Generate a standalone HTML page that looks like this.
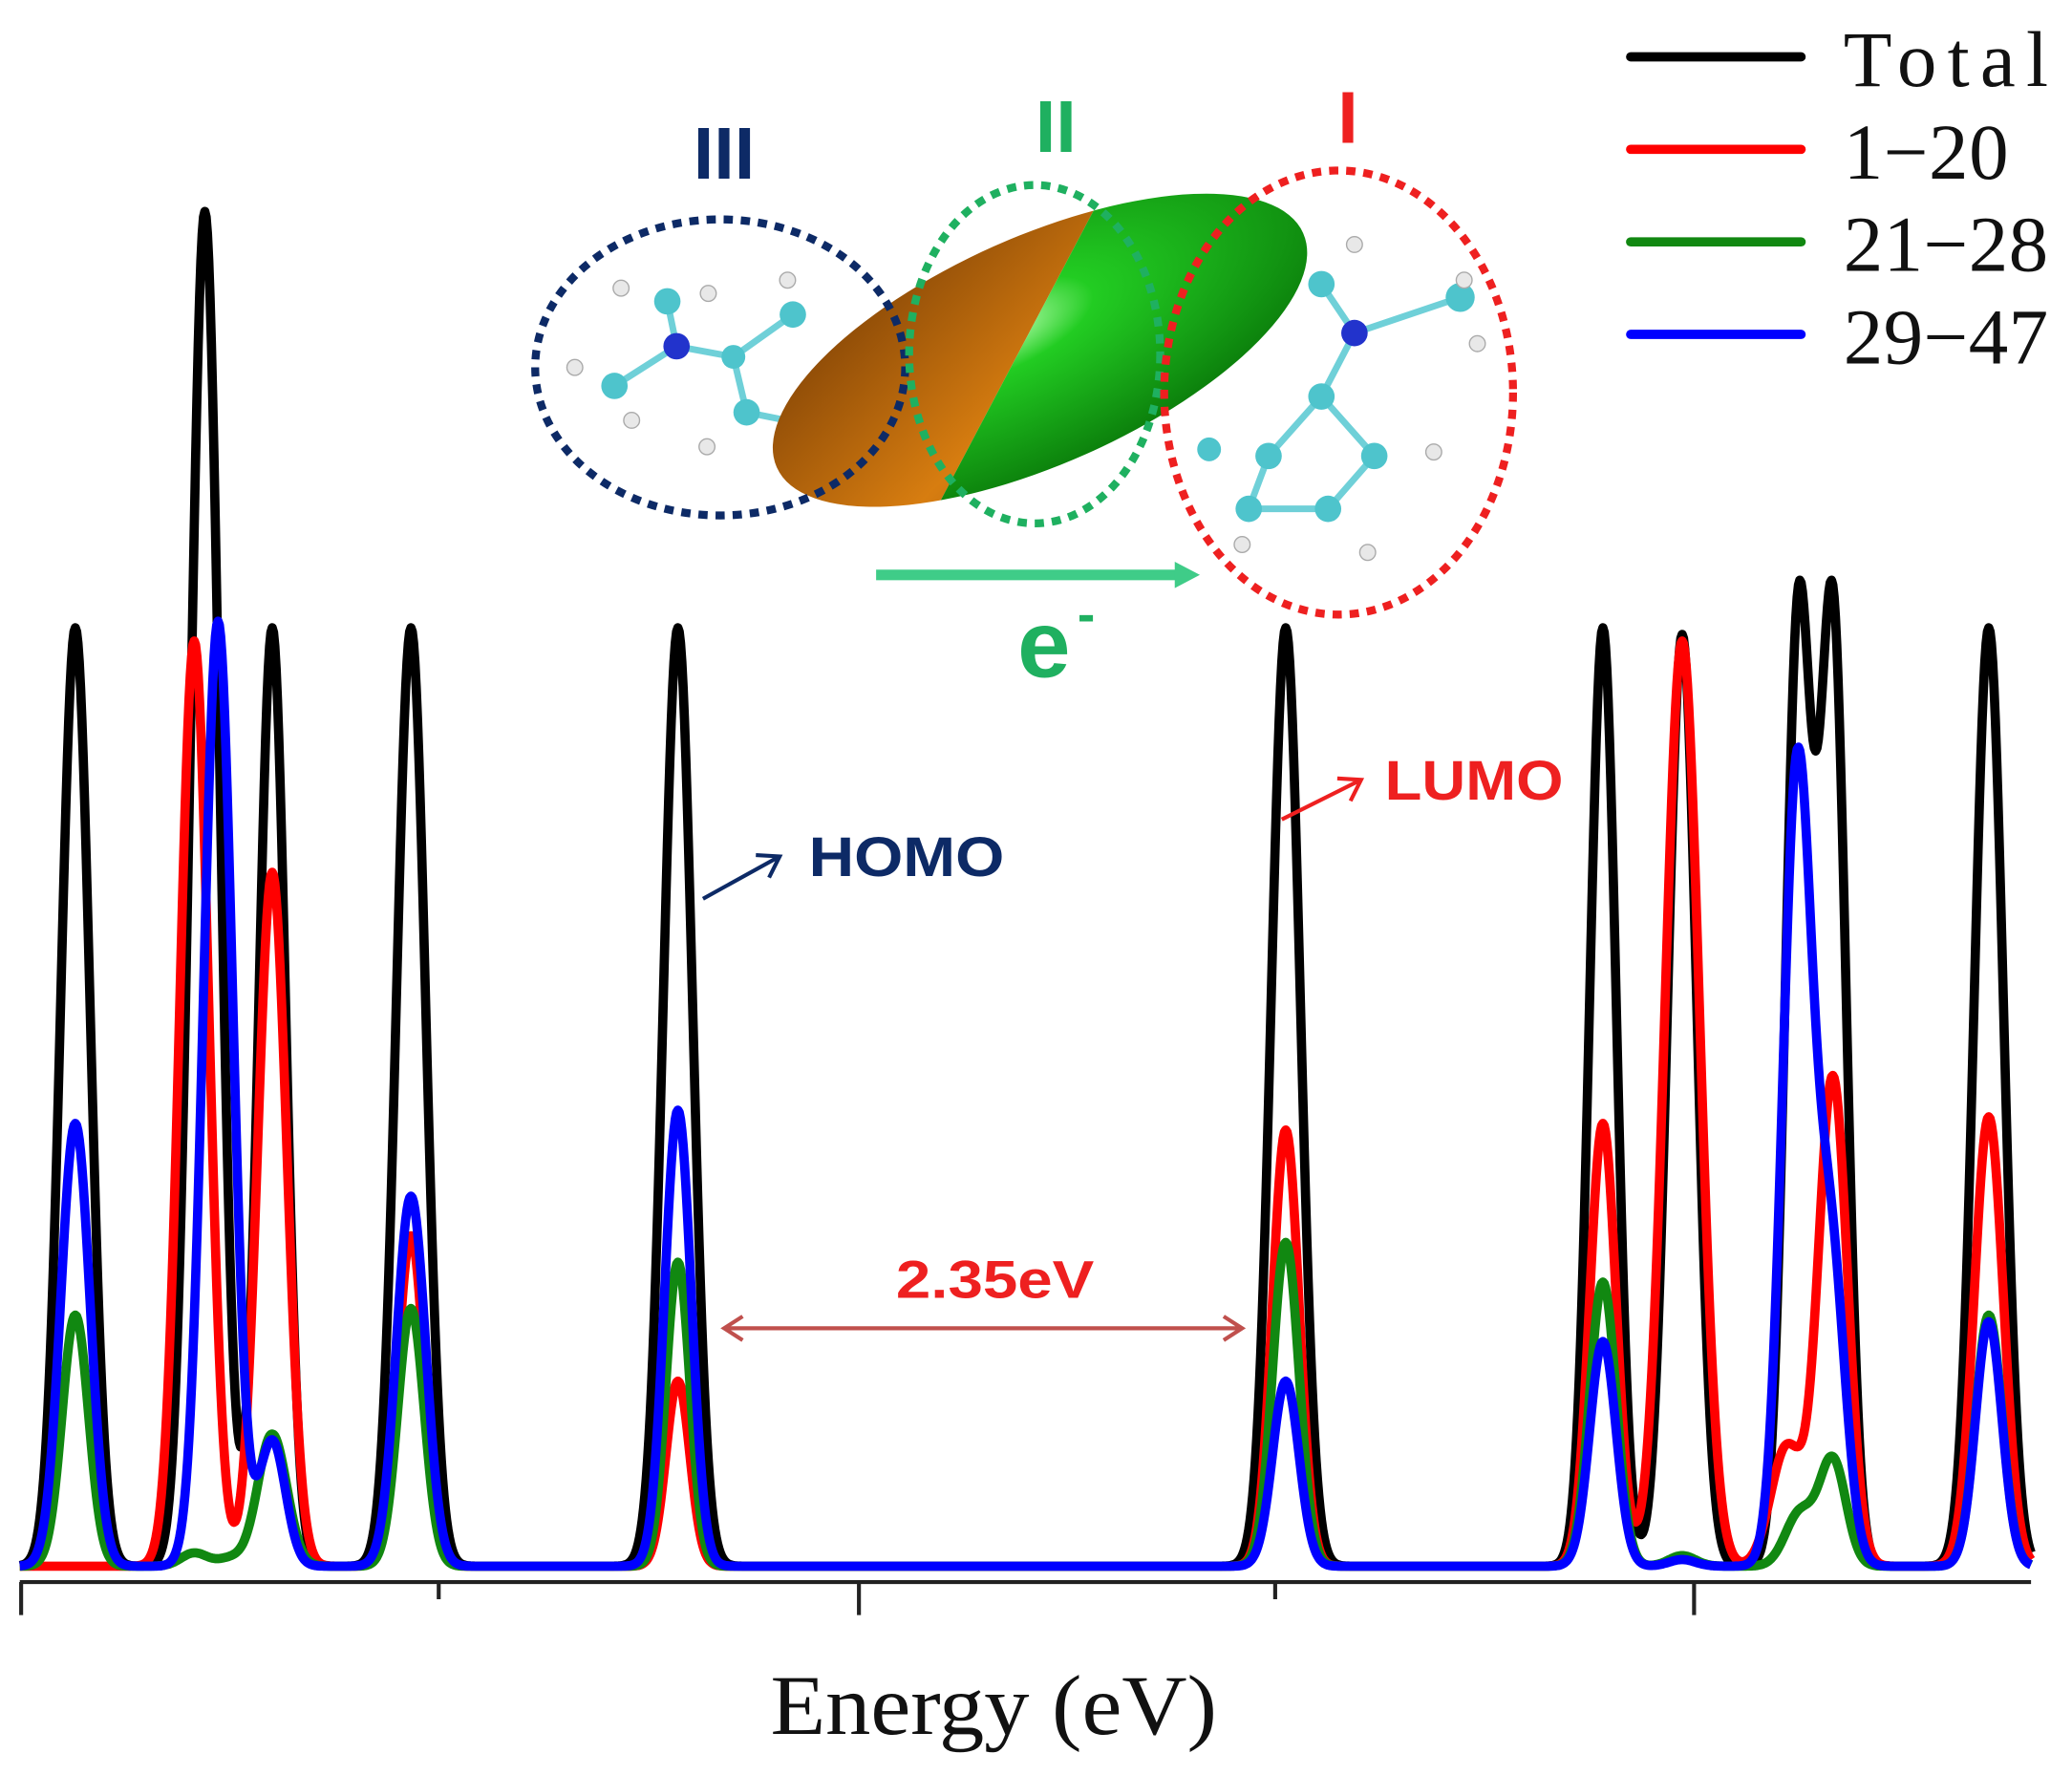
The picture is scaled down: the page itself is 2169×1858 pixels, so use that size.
<!DOCTYPE html>
<html><head><meta charset="utf-8"><style>
html,body{margin:0;padding:0;background:#fff;}
svg{display:block;}
</style></head><body>
<svg id="s" width="2169" height="1858" viewBox="0 0 1568 1343" preserveAspectRatio="none" xmlns="http://www.w3.org/2000/svg">
<defs>
<linearGradient id="og" x1="0" y1="0" x2="1" y2="1"><stop offset="0" stop-color="#7a3e05"/><stop offset="0.55" stop-color="#d77d10"/><stop offset="1" stop-color="#8a4a08"/></linearGradient>
<radialGradient id="gg" cx="0.45" cy="0.35" r="0.7"><stop offset="0" stop-color="#b8ffb0"/><stop offset="0.25" stop-color="#22cc22"/><stop offset="1" stop-color="#0a7a0a"/></radialGradient>
<clipPath id="lc"><path d="M500 60 L880 60 L690 420 L500 420 Z"/></clipPath>
<clipPath id="rc"><path d="M880 60 L1100 60 L1100 420 L690 420 Z"/></clipPath>
</defs>
<g stroke="#6fd0d8" stroke-width="5" fill="none">
<path d="M465 292 L512 262 L555 270 L600 238 M512 262 L505 228 M555 270 L565 312 L615 322 M1025 252 L1000 300 L960 345 L945 385 L1005 385 L1040 345 L1000 300 M1025 252 L1105 225 M1025 252 L1000 215"/>
</g>
<g fill="#4ec4cc">
<circle cx="465" cy="292" r="10"/><circle cx="505" cy="228" r="10"/><circle cx="555" cy="270" r="9"/><circle cx="600" cy="238" r="10"/><circle cx="565" cy="312" r="10"/><circle cx="615" cy="322" r="10"/>
<circle cx="1000" cy="215" r="10"/><circle cx="1105" cy="225" r="11"/><circle cx="1000" cy="300" r="10"/><circle cx="960" cy="345" r="10"/><circle cx="945" cy="385" r="10"/><circle cx="1005" cy="385" r="10"/><circle cx="1040" cy="345" r="10"/><circle cx="915" cy="340" r="9"/>
</g>
<circle cx="512" cy="262" r="10" fill="#2233cc"/><circle cx="1025" cy="252" r="10" fill="#2233cc"/>
<g fill="#e8e8e8" stroke="#aaa" stroke-width="1">
<circle cx="435" cy="278" r="6"/><circle cx="478" cy="318" r="6"/><circle cx="470" cy="218" r="6"/><circle cx="536" cy="222" r="6"/><circle cx="596" cy="212" r="6"/><circle cx="535" cy="338" r="6"/><circle cx="620" cy="350" r="6"/><circle cx="715" cy="325" r="6"/>
<circle cx="1025" cy="185" r="6"/><circle cx="1108" cy="212" r="6"/><circle cx="1118" cy="260" r="6"/><circle cx="1085" cy="342" r="6"/><circle cx="940" cy="412" r="6"/><circle cx="1035" cy="418" r="6"/>
</g>
<g clip-path="url(#lc)"><ellipse cx="787" cy="265" rx="218" ry="86" transform="rotate(-24 787 265)" fill="url(#og)"/></g>
<g clip-path="url(#rc)"><ellipse cx="787" cy="265" rx="218" ry="86" transform="rotate(-24 787 265)" fill="url(#gg)"/></g>
<g fill="none" stroke-width="6" stroke-dasharray="7 6">
<ellipse cx="545" cy="278" rx="140" ry="112" stroke="#0d2a66"/>
<ellipse cx="783" cy="268" rx="95" ry="128" stroke="#1fb060"/>
<ellipse cx="1013" cy="297" rx="132" ry="168" stroke="#ee2020"/>
</g>
<g font-family="Liberation Sans, sans-serif" font-weight="bold" text-anchor="middle">
<text x="548" y="135" font-size="56" fill="#0d2a66">III</text>
<text x="799" y="115" font-size="56" fill="#1fb060">II</text>
<text x="1020" y="108" font-size="56" fill="#ee2020">I</text>
<text x="790" y="512" font-size="72" fill="#1fb060">e</text>
<text x="822" y="478" font-size="40" fill="#1fb060">-</text>
</g>
<rect x="663" y="431" width="228" height="8" fill="#3fcc88"/>
<path d="M889 425 L908 435 L889 445 Z" fill="#3fcc88"/>
<g id="curves" fill="none" stroke-width="7" stroke-linejoin="round"></g>
<g stroke="#222" stroke-width="3">
<line x1="15" y1="1197" x2="1537" y2="1197"/>
<line x1="16" y1="1197" x2="16" y2="1222"/><line x1="332" y1="1197" x2="332" y2="1210"/>
<line x1="650" y1="1197" x2="650" y2="1222"/><line x1="965" y1="1197" x2="965" y2="1210"/>
<line x1="1282" y1="1197" x2="1282" y2="1222"/>
</g>
<text x="583" y="1312" font-family="Liberation Serif, serif" font-size="64" textLength="338" lengthAdjust="spacingAndGlyphs" fill="#111">Energy (eV)</text>
<g font-family="Liberation Sans, sans-serif" font-weight="bold">
<text x="612" y="663" font-size="42" fill="#0d2a66" textLength="148" lengthAdjust="spacingAndGlyphs">HOMO</text>
<text x="1048" y="605" font-size="42" fill="#ee2020" textLength="135" lengthAdjust="spacingAndGlyphs">LUMO</text>
<text x="678" y="982" font-size="40" fill="#ee2020" textLength="150" lengthAdjust="spacingAndGlyphs">2.35eV</text>
</g>
<g stroke-width="3" fill="none">
<path d="M532 680 L590 648 M572 647 L590 648 L582 664" stroke="#0d2a66"/>
<path d="M970 620 L1030 590 M1012 589 L1030 590 L1022 606" stroke="#ee2020"/>
<path d="M548 1005 L940 1005 M562 996 L548 1005 L562 1014 M926 996 L940 1005 L926 1014" stroke="#c0504d"/>
</g>
<g stroke-width="7" stroke-linecap="round">
<line x1="1234" y1="43" x2="1363" y2="43" stroke="#000"/>
<line x1="1234" y1="113" x2="1363" y2="113" stroke="#ff0000"/>
<line x1="1234" y1="183" x2="1363" y2="183" stroke="#118811"/>
<line x1="1234" y1="253" x2="1363" y2="253" stroke="#0000ff"/>
</g>
<g font-family="Liberation Serif, serif" font-size="60" fill="#111" lengthAdjust="spacingAndGlyphs">
<text x="1395" y="65" textLength="155">Total</text>
<text x="1395" y="135" textLength="125">1−20</text>
<text x="1395" y="205" textLength="155">21−28</text>
<text x="1395" y="275" textLength="155">29−47</text>
</g>
</svg>
<script>
var B=1185;
var S={
"#000":[[57,710,11],[155,1025,11],[206,710,10],[311,710,11],[513,710,11],[973,710,11],[1213,710,10],[1273,705,11],[1361,718,10],[1387,718,10],[1505,710,11]],
"#ff0000":[[147,700,11],[206,525,11],[311,250,10],[513,140,9],[973,330,10],[1213,335,10],[1273,700,13],[1387,370,11],[1352,90,12],[1505,340,11]],
"#118811":[[57,190,10],[147,10,10],[175,6,10],[206,100,11],[311,195,10],[513,230,9],[973,245,10],[1213,215,10],[1273,8,10],[1362,40,11],[1387,80,10],[1505,190,10]],
"#0000ff":[[57,335,11],[165,715,11],[206,95,10],[311,280,11],[513,345,10],[973,140,10],[1213,170,10],[1273,5,10],[1360,600,11],[1385,240,11],[1505,185,10]]
};
var g=document.getElementById('curves'),ns='http://www.w3.org/2000/svg';
for(var c in S){var d='';for(var x=15;x<=1537;x+=1){var y=0;S[c].forEach(function(p){y+=p[1]*Math.exp(-(x-p[0])*(x-p[0])/(2*p[2]*p[2]));});d+=(x==15?'M':'L')+x+' '+(B-y).toFixed(1);}
var pa=document.createElementNS(ns,'path');pa.setAttribute('d',d);pa.setAttribute('stroke',c);g.appendChild(pa);}
</script>
</body></html>
